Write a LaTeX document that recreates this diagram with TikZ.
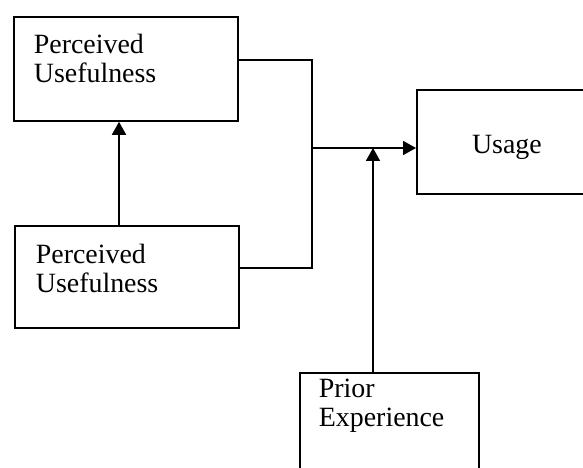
\documentclass[tikz,border=0pt]{standalone}
\usepackage{fontspec}
\setmainfont{Liberation Serif}
\setlength{\parindent}{0pt}
\usetikzlibrary{arrows.meta, positioning}

\tikzset{
    blockbox/.style={draw, line width=1.8bp, anchor=north west, align=left,
        inner ysep=0pt, font=\fontsize{28}{28.5}\selectfont},
    arr/.style={-{Triangle[length=13bp,width=14bp]}}
}

\begin{document}
\begin{tikzpicture}[
    x=1bp, y=-1bp,
    line width=1.8bp
]

\useasboundingbox (0,0) rectangle (583,468);
\clip (0,0) rectangle (583,468);

% Blocks
\node[blockbox, inner xsep=20bp, text width=184bp, text height=37bp, text depth=67bp]
    (pu1) at (13,16) {Perceived\\Usefulness};
\node[blockbox, inner xsep=21bp, text width=182bp, text height=38bp, text depth=64bp]
    (pu2) at (14,225) {Perceived\\Usefulness};
\node[blockbox, align=center, inner xsep=0pt, text width=180bp, text height=64bp, text depth=40bp]
    (use) at (416,89) {Usage};
\node[blockbox, inner xsep=19bp, text width=141bp, text height=25bp, text depth=80bp]
    (prior) at (299,372) {Prior\\Experience};

% Junction points
\coordinate (jtop) at (312,60);
\coordinate (jbot) at (312,268);
\coordinate (jmid) at (312,148);
\coordinate (jexp) at (373,148);
\coordinate (jpu) at (119,170);

% Connectors
\draw (pu1.east |- jtop) -- (jtop) -- (jbot) -- (pu2.east |- jbot);
\draw[arr] (jmid) -- (jmid -| use.west);
\draw[arr] (prior.north -| jexp) -- (jexp);
\draw[arr] (pu2.north -| jpu) -- (pu1.south -| jpu);

\end{tikzpicture}
\end{document}
